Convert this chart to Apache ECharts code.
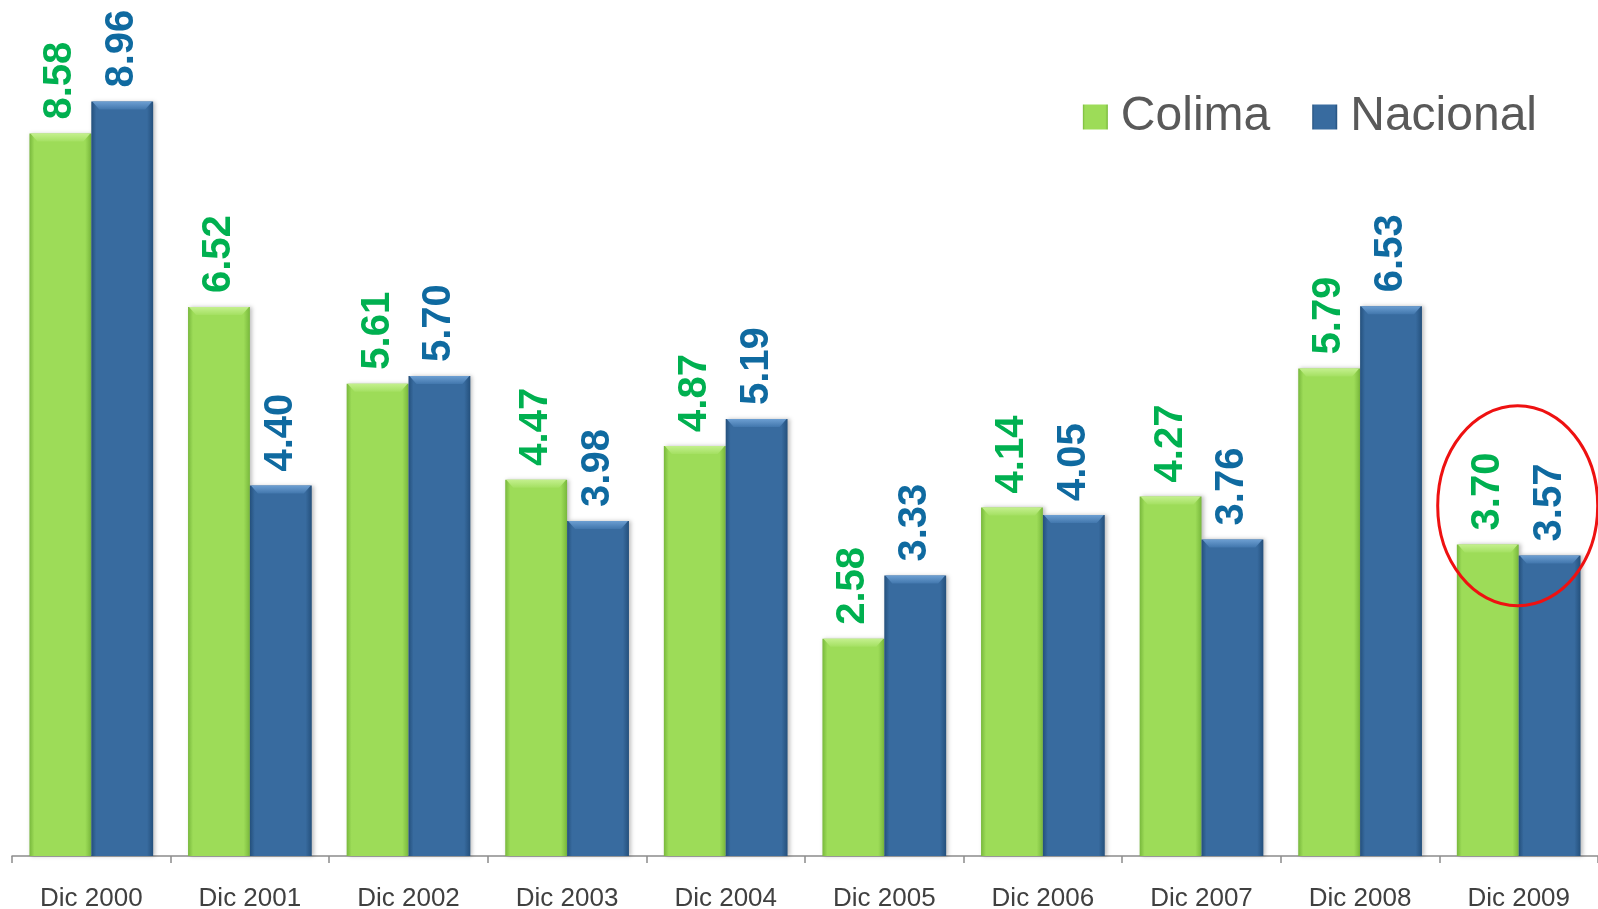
<!DOCTYPE html>
<html>
<head>
<meta charset="utf-8">
<script src="https://cdn.jsdelivr.net/npm/echarts@6/dist/echarts.min.js"></script>
<style>
    html, body { margin: 0; padding: 0; background: #fff; }
    #chart { width: 1598px; height: 909px; }
</style>
</head>
<body>
<div id="chart"></div>
<script>
// values
const categories = ['Dic 2000', 'Dic 2001', 'Dic 2002', 'Dic 2003', 'Dic 2004',
    'Dic 2005', 'Dic 2006', 'Dic 2007', 'Dic 2008', 'Dic 2009'];
const colima = [8.58, 6.52, 5.61, 4.47, 4.87, 2.58, 4.14, 4.27, 5.79, 3.70];
const nacional = [8.96, 4.40, 5.70, 3.98, 5.19, 3.33, 4.05, 3.76, 6.53, 3.57];
const seriesNames = ['Colima', 'Nacional'];
const highlighted = 'Dic 2009';

const FONT = 'Liberation Sans, Arial, sans-serif';
const GAP = 0.22; // barCategoryGap

function barFill(edge, mid) {
    return new echarts.graphic.LinearGradient(0, 0, 1, 0, [
        {offset: 0, color: edge},
        {offset: 0.08, color: mid},
        {offset: 0.9, color: mid},
        {offset: 1, color: edge}
    ]);
}

function barSeries(name, data, edge, mid, labelColor) {
    return {
        name: name,
        type: 'bar',
        data: data,
        barGap: '0%',
        barCategoryGap: (GAP * 100) + '%',
        itemStyle: {
            color: barFill(edge, mid),
            shadowColor: 'rgba(0,0,0,0.25)',
            shadowBlur: 4,
            shadowOffsetX: 2
        },
        label: {
            show: true,
            position: 'top',
            distance: 14,
            rotate: 90,
            align: 'left',
            verticalAlign: 'middle',
            fontFamily: FONT,
            fontWeight: 'bold',
            fontSize: 40,
            color: labelColor,
            formatter: p => p.value.toFixed(2)
        }
    };
}

// light bevel on the top of each bar, drawn through the same axes
function bevelSeries(data, side, light, mid) {
    return {
        type: 'custom',
        silent: true,
        z: 3,
        data: data.map((v, i) => [i, v]),
        renderItem: function (params, api) {
            const top = api.coord([api.value(0), api.value(1)]);
            const w = api.size([1, 0])[0] * (1 - GAP) / 2;
            const x0 = side === 0 ? top[0] - w : top[0];
            const d = 8;
            return {
                type: 'polygon',
                shape: {points: [[x0 + 1, top[1]], [x0 + w - 1, top[1]],
                    [x0 + w - d, top[1] + d], [x0 + d, top[1] + d]]},
                style: {
                    fill: new echarts.graphic.LinearGradient(0, 0, 0, 1, [
                        {offset: 0, color: light},
                        {offset: 1, color: mid}
                    ])
                }
            };
        }
    };
}

const chart = echarts.init(document.getElementById('chart'));
chart.setOption({
    animation: false,
    backgroundColor: '#fff',
    grid: {left: 12, right: 0, top: 14, bottom: 53, outerBoundsMode: 'none'},
    legend: {
        data: seriesNames,
        right: 56,
        top: 88,
        itemWidth: 25,
        itemHeight: 25,
        itemGap: 42,
        icon: 'rect',
        textStyle: {fontFamily: FONT, fontSize: 48, color: '#595959', padding: [0, 0, 0, 8]}
    },
    xAxis: {
        type: 'category',
        data: categories,
        axisLine: {lineStyle: {color: '#8c8c8c', width: 1.5}},
        axisTick: {show: true, length: 7, lineStyle: {color: '#8c8c8c', width: 1.5}},
        axisLabel: {fontFamily: FONT, fontSize: 26, color: '#404040', margin: 30}
    },
    yAxis: {
        type: 'value',
        min: 0,
        max: 10,
        show: false,
        splitLine: {show: false}
    },
    series: [
        barSeries(seriesNames[0], colima, '#78b83c', '#9ddc58', '#00b050'),
        barSeries(seriesNames[1], nacional, '#24507c', '#386b9f', '#0f6aa0'),
        bevelSeries(colima, 0, '#c4f08e', '#a4e062'),
        bevelSeries(nacional, 1, '#6d9fd2', '#4277ad')
    ]
});

// red ellipse around the last group, placed through the axes
const ring = chart.convertToPixel({gridIndex: 0}, [highlighted, 4.16]);
chart.setOption({
    graphic: [{
        type: 'ellipse',
        shape: {cx: ring[0] - 1, cy: ring[1], rx: 80, ry: 100},
        style: {fill: 'none', stroke: '#ee1111', lineWidth: 3},
        z: 100
    }]
});
</script>
</body>
</html>
